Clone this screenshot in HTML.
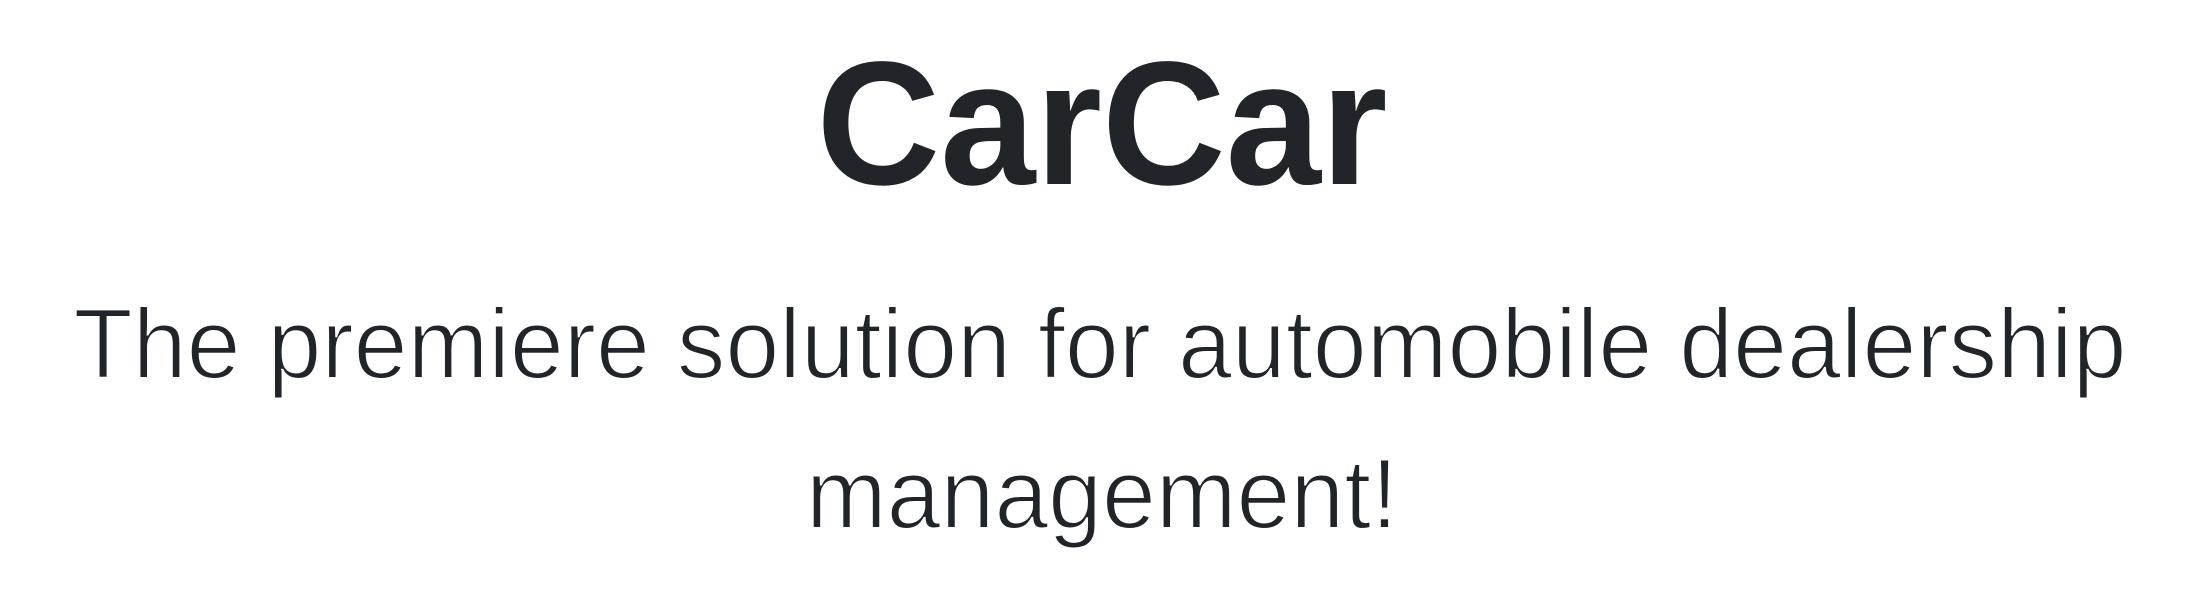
<!DOCTYPE html>
<html><head><meta charset="utf-8"><style>
html,body{margin:0;padding:0;background:#fff;width:2198px;height:600px;overflow:hidden}
svg{display:block}
</style></head><body>
<svg width="2198" height="600" xmlns="http://www.w3.org/2000/svg">
<text x="1102" y="184" text-anchor="middle" font-family="Liberation Sans, sans-serif" font-weight="bold" font-size="176" fill="#212529" textLength="571" lengthAdjust="spacingAndGlyphs">CarCar</text>
<text x="1100" y="378" text-anchor="middle" font-family="Liberation Sans, sans-serif" font-size="99" fill="#212529" stroke="#fff" stroke-width="2" textLength="2053" lengthAdjust="spacingAndGlyphs">The premiere solution for automobile dealership</text>
<text x="1102" y="528" text-anchor="middle" font-family="Liberation Sans, sans-serif" font-size="99" fill="#212529" stroke="#fff" stroke-width="2" textLength="592" lengthAdjust="spacingAndGlyphs">management!</text>
</svg>
</body></html>
